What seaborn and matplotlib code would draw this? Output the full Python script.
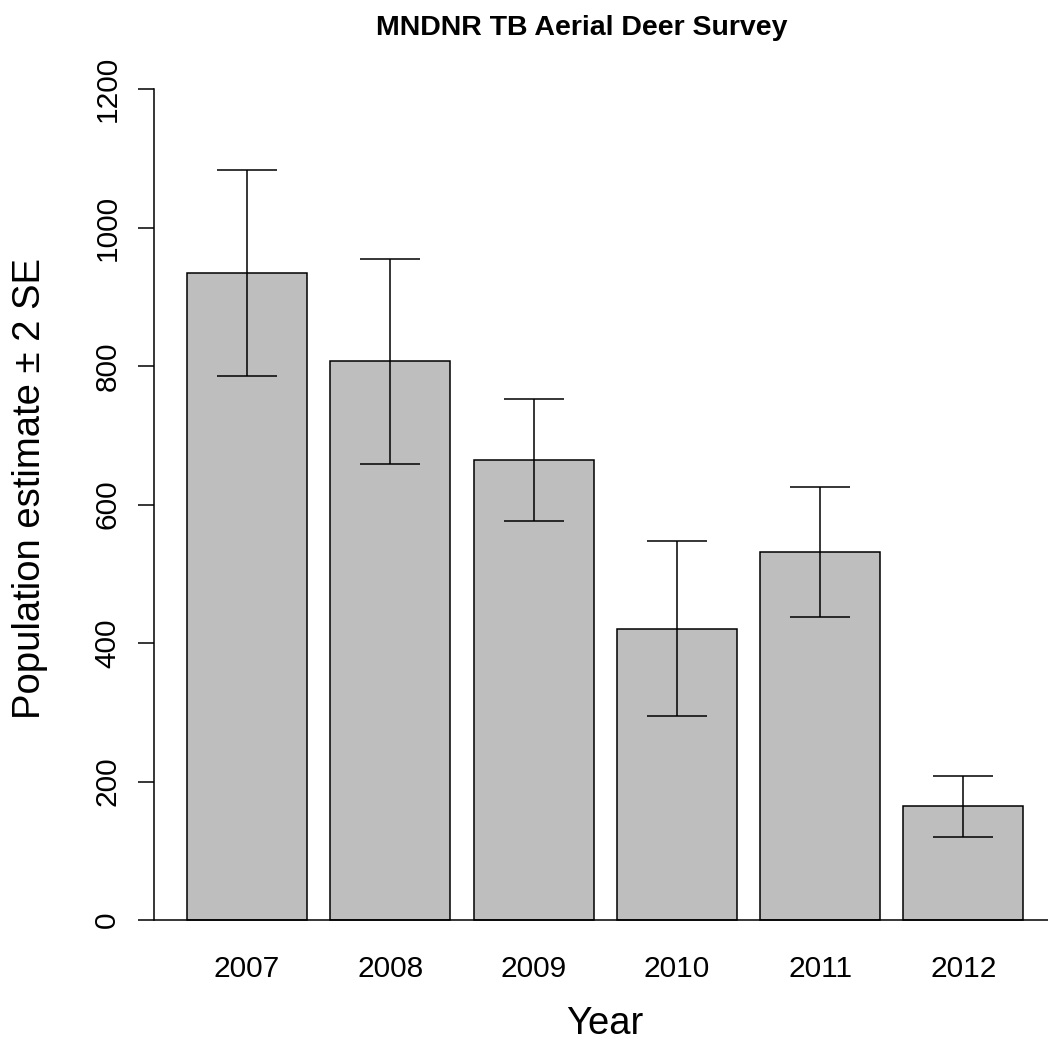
import pandas as pd
import matplotlib.pyplot as plt
import seaborn as sns

# Survey estimates
years = ['2007', '2008', '2009', '2010', '2011', '2012']
estimate = [935, 807, 665, 421, 532, 164]
two_se = [149, 148, 88, 126, 94, 44]

df = pd.DataFrame({'Year': years, 'Estimate': estimate})

sns.set_style('white')
plt.rcParams['font.family'] = ['Liberation Sans', 'DejaVu Sans']
plt.rcParams['text.color'] = 'black'
plt.rcParams['xtick.color'] = 'black'
plt.rcParams['ytick.color'] = 'black'

fig = plt.figure(figsize=(10.48, 10.46), dpi=100)
ax = fig.add_axes([154 / 1048, 1 - 953.2 / 1046, 1 - 154 / 1048, (953.2 - 56) / 1046])

sns.barplot(data=df, x='Year', y='Estimate', color='#BEBEBE', saturation=1,
            edgecolor='black', linewidth=1.1, width=0.8375, errorbar=None, ax=ax)
ax.errorbar(range(len(years)), estimate, yerr=two_se, fmt='none',
            ecolor='black', elinewidth=1.1, capsize=21.6, capthick=1.1)
ax.axhline(0, color='black', lw=1.1)

ax.set_xlim(-0.649, 5.59)
ax.set_ylim(-48, 1248)
ax.set_yticks([0, 200, 400, 600, 800, 1000, 1200])
ax.tick_params(axis='y', length=11.5, width=1.1, color='black', labelcolor='black',
               labelsize=21.5, pad=12, left=True)
ax.tick_params(axis='x', length=0, labelsize=21.5, labelcolor='black', pad=1)
for lab in ax.get_yticklabels():
    lab.set_rotation(90)
    lab.set_va('center')

for s in ['top', 'right', 'bottom']:
    ax.spines[s].set_visible(False)
ax.spines['left'].set_bounds(0, 1200)
ax.spines['left'].set_color('black')
ax.spines['left'].set_linewidth(1.1)

ax.set_xlabel('')
ax.set_ylabel('')
fig.text(582 / 1048, 1 - 28 / 1046, 'MNDNR TB Aerial Deer Survey', ha='center',
         va='center', fontsize=20.5, fontweight='bold')
fig.text(605 / 1048, 1 - 1024 / 1046, 'Year', ha='center', va='center', fontsize=27.5)
fig.text(30 / 1048, 1 - 488 / 1046, 'Population estimate \u00b1 2 SE', ha='center',
         va='center', rotation=90, fontsize=27.5)

fig.savefig('out.png', dpi=100)
